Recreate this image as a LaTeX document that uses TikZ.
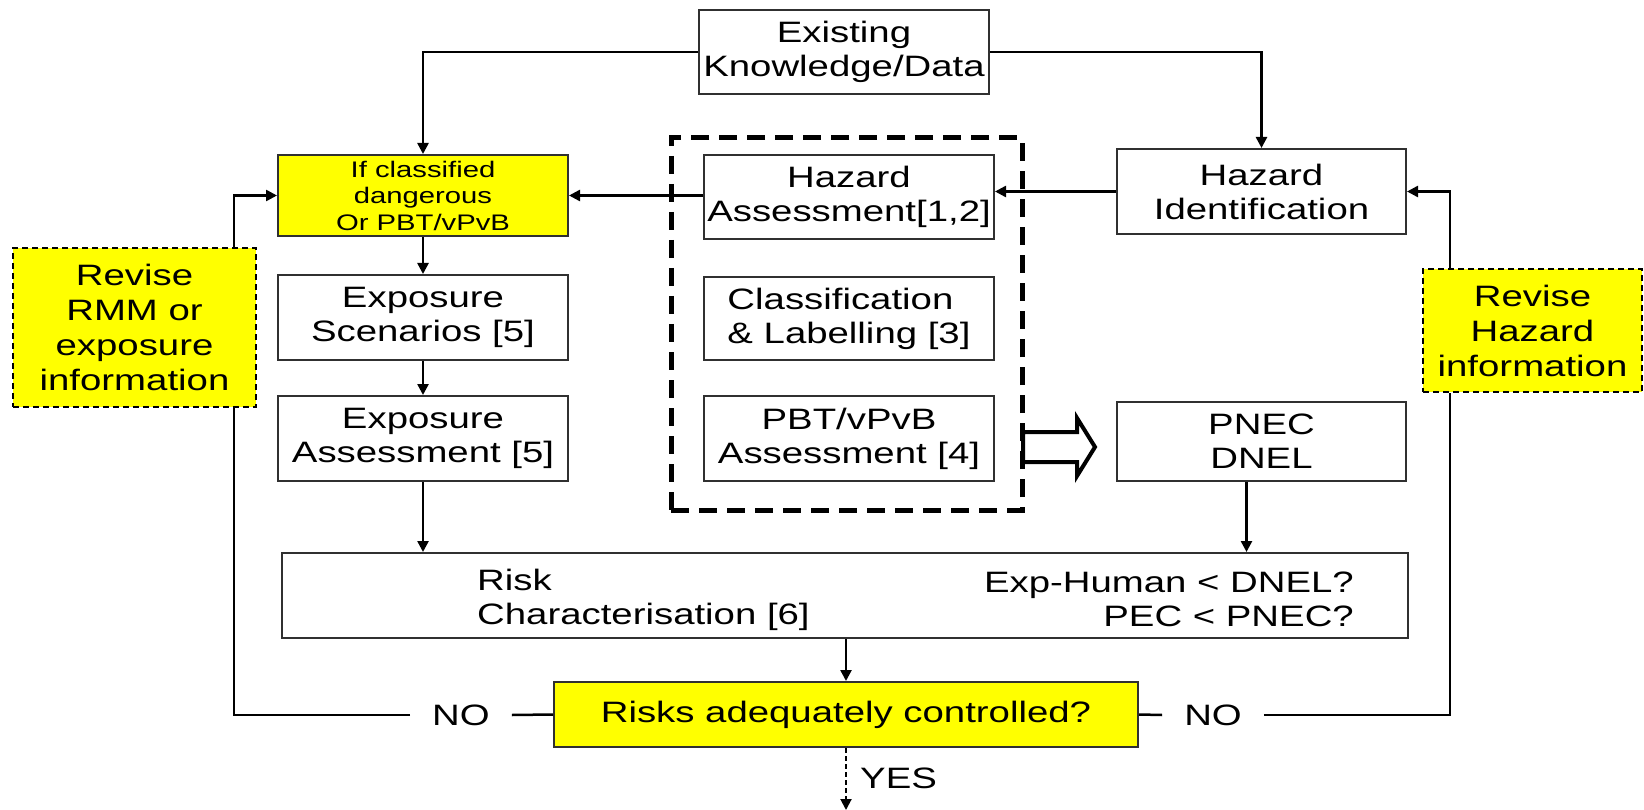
\documentclass[tikz,border=0pt]{standalone}
\usepackage{fontspec}
\setmainfont{Liberation Sans}[FakeStretch=1.3]
\usetikzlibrary{arrows.meta,calc}
\definecolor{boxline}{HTML}{303030}
\definecolor{ylw}{HTML}{FFFF00}
\begin{document}
\begin{tikzpicture}[x=1pt,y=-1pt,
  every node/.style={font=\fontsize{29.5}{34}\selectfont, inner sep=0pt},
  box/.style={draw=boxline, line width=2pt, fill=white, minimum width=290pt, minimum height=84pt, align=center},
  ybox/.style={box, fill=ylw},
  revbox/.style={draw=black, line width=2pt, dash pattern=on 6pt off 4pt, fill=ylw, align=center, font=\fontsize{29.5}{35}\selectfont},
  grpbox/.style={draw=black, line width=5pt, dash pattern=on 18pt off 10pt},
  conn/.style={line width=2.5pt, draw=black},
  arr/.style={conn, -{Triangle[length=11pt,width=11pt]}},
  yesarr/.style={line width=2pt, draw=black, dash pattern=on 5pt off 3pt, -{Triangle[length=11pt,width=11pt]}},
  bigarr/.style={line width=4pt, draw=black, fill=white, line join=miter},
  nolbl/.style={inner xsep=22pt}
]
\useasboundingbox (0,0) rectangle (1644,810);

% group frame
\node[grpbox, minimum width=351pt, minimum height=372pt] (grp) at (846.5,324) {};

% boxes
\node[box] (exist) at (844,52) {Existing\\Knowledge/Data};
\node[ybox, font=\fontsize{22.5}{26.5}\selectfont, minimum height=81pt] (ifcl) at (423,195.5) {If classified\\dangerous\\Or PBT/vPvB};
\node[box] (hazass) at (849,197) {Hazard\\Assessment[1,2]};
\node[box, minimum width=289pt, minimum height=85pt] (hazid) at (1261.5,191.5) {Hazard\\Identification};
\node[revbox, minimum width=243pt, minimum height=159pt] (rrmm) at (134.5,327.5) {Revise\\RMM or\\exposure\\information};
\node[revbox, minimum width=219pt, minimum height=123pt] (rhaz) at (1532.5,330.5) {Revise\\Hazard\\information};
\node[box, minimum height=85pt] (expsc) at (423,317.5) {Exposure\\Scenarios [5]};
\node[box, minimum height=83pt, align=left] (classif) at (849,318.5) {Classification\\\& Labelling [3]};
\node[box, minimum height=85pt] (expas) at (423,438.5) {Exposure\\Assessment [5]};
\node[box, minimum height=85pt] (pbt) at (849,438.5) {PBT/vPvB\\Assessment [4]};
\node[box, minimum width=289pt, minimum height=79pt] (pnec) at (1261.5,441.5) {PNEC\\DNEL};
\node[box, minimum width=1126pt, minimum height=85pt] (risk) at (845,595.5) {};
\node[anchor=west, align=left] (risktxt) at ($(risk.west)+(196,4)$) {Risk\\Characterisation [6]};
\node[anchor=east, align=right] (risktest) at ($(risk.east)+(-55,4)$) {Exp-Human < DNEL?\\PEC < PNEC?};
\node[ybox, minimum width=584pt, minimum height=65pt] (radq) at (846,714.5) {Risks adequately controlled?};
\node[nolbl] (noL) at (461,715) {NO};
\node[nolbl] (noR) at (1213,715) {NO};
\node[anchor=west] (yes) at (860,778) {YES};
\coordinate (yesend) at (846,810);

% big open arrow
\draw[bigarr] (1023,432) -- (1077,432) -- (1077,418) -- (1095,447) -- (1077,476) -- (1077,462) -- (1023,462) -- cycle;

% connectors
\draw[arr] (exist.west) -| (ifcl.north);
\draw[arr] (exist.east) -| (hazid.north);
\draw[arr] (hazid.west) -- (hazid.west -| hazass.east);
\draw[arr] (hazass.west |- ifcl.east) -- (ifcl.east);
\draw[arr] (ifcl) -- (expsc);
\draw[arr] (expsc) -- (expas);
\draw[arr] (expas.south) -- (expas.south |- risk.north);
\draw[arr] ([xshift=-15pt]pnec.south) -- ([xshift=-15pt]pnec.south |- risk.north);
\draw[arr] (risk.south -| radq.north) -- (radq.north);
\draw[yesarr] (radq.south) -- (yesend);
\draw[conn] (radq.west) -- (noL.east);
\draw[conn] (noL.west) -| ($(rrmm.south east)+(-23,0)$);
\draw[arr] ($(rrmm.north east)+(-23,0)$) |- (ifcl.west);
\draw[conn] (radq.east) -- (noR.west);
\draw[conn] (noR.east) -| ($(rhaz.south west)+(28,0)$);
\draw[arr] ($(rhaz.north west)+(28,0)$) |- (hazid.east);
\end{tikzpicture}
\end{document}
